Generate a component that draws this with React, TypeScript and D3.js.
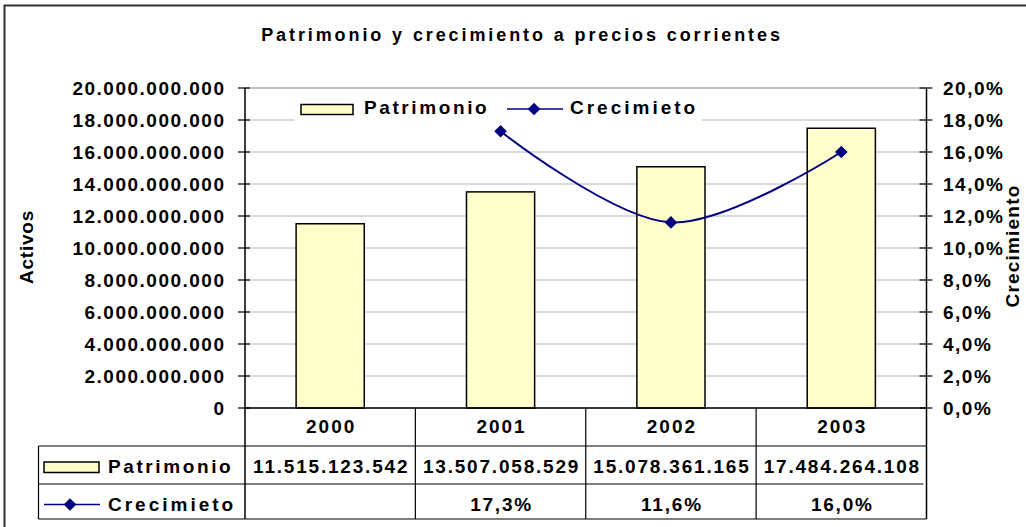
import React from 'react';
import * as d3 from 'd3';

const years = ['2000', '2001', '2002', '2003'];
const patrimonio = [11515123542, 13507058529, 15078361165, 17484264108];
const crecimiento: (number | null)[] = [null, 17.3, 11.6, 16.0];
const leftTicks = [0, 2e9, 4e9, 6e9, 8e9, 10e9, 12e9, 14e9, 16e9, 18e9, 20e9];
const rightTicks = [0, 2, 4, 6, 8, 10, 12, 14, 16, 18, 20];
const title = 'Patrimonio y crecimiento a precios corrientes';
const seriesNames = ['Patrimonio', 'Crecimieto'];
const leftAxisTitle = 'Activos';
const rightAxisTitle = 'Crecimiento';

const W = 1026, H = 527;
const L = 245, R = 926.5, T = 88, B = 408;
const FONT = '"Liberation Sans", Arial, Helvetica, sans-serif';
const BAR_FILL = '#FFFFCC';
const LINE = '#000080';

const loc = d3.formatLocale({ decimal: ',', thousands: '.', grouping: [3], currency: ['', ''] });
const fmtInt = loc.format(',.0f');
const fmtPct = (v: number) => loc.format('.1f')(v) + '%';

export default function App() {
  const x = d3.scaleBand<string>().domain(years).range([L, R]).paddingInner(0.6).paddingOuter(0.3);
  const step = x.step();
  const yL = d3.scaleLinear().domain([0, 20e9]).range([B, T]);
  const yR = d3.scaleLinear().domain([0, 20]).range([B, T]);
  const cx = (yr: string) => (x(yr) as number) + x.bandwidth() / 2;
  const pts = years.map((yr, i) => ({ yr, v: crecimiento[i] })).filter(d => d.v != null) as { yr: string; v: number }[];
  const line = d3.line<{ yr: string; v: number }>().x(d => cx(d.yr)).y(d => yR(d.v)).curve(d3.curveCatmullRom.alpha(0.5));
  const diamond = d3.symbol(d3.symbolSquare, 80)() as string;
  const colEdges = [L, ...years.map((yr, i) => L + step * (i + 1))].map((v, i, a) => (i === a.length - 1 ? R : v));
  const tLeft = 38.5, rowYear = 446, rowPat = 484, rowEnd = 519;

  const txt = { fontFamily: FONT, fontWeight: 700, fontSize: 19, letterSpacing: 1.5, fill: '#000' } as const;

  return (
    <svg width={W} height={H} style={{ position: 'absolute', left: 0, top: 0, background: '#fff' }}>
      <rect x={4.5} y={5.5} width={W + 10} height={H + 10} fill="#fff" stroke="#333" strokeWidth={2} />
      <text x={522} y={41} textAnchor="middle" style={{ ...txt, fontSize: 18, letterSpacing: 2.9 }}>{title}</text>

      {leftTicks.map(t => (
        <line key={'g' + t} x1={L} x2={R} y1={yL(t)} y2={yL(t)} stroke={t === 20e9 ? '#808080' : '#b4b4b4'} strokeWidth={1} />
      ))}

      <rect x={295} y={92} width={407} height={32} fill="#fff" />
      <rect x={301} y={104.5} width={52} height={10} fill={BAR_FILL} stroke="#000" strokeWidth={1.5} />
      <text x={364} y={114} style={{ ...txt, letterSpacing: 2.6 }}>{seriesNames[0]}</text>
      <line x1={507} x2={563} y1={109} y2={109} stroke={LINE} strokeWidth={1.5} />
      <path d={diamond} transform={`translate(534,109) rotate(45)`} fill={LINE} />
      <text x={570} y={114} style={{ ...txt, letterSpacing: 3 }}>{seriesNames[1]}</text>

      {years.map((yr, i) => (
        <rect key={yr} x={x(yr)} y={yL(patrimonio[i])} width={x.bandwidth()} height={B - yL(patrimonio[i])}
          fill={BAR_FILL} stroke="#000" strokeWidth={1.5} />
      ))}

      <path d={line(pts) as string} fill="none" stroke={LINE} strokeWidth={2} />
      {pts.map(d => (
        <path key={d.yr} d={diamond} transform={`translate(${cx(d.yr)},${yR(d.v)}) rotate(45)`} fill={LINE} />
      ))}

      <line x1={L} x2={L} y1={T} y2={rowEnd} stroke="#000" strokeWidth={1.5} />
      <line x1={R} x2={R} y1={T} y2={rowEnd} stroke="#000" strokeWidth={1.5} />
      <line x1={L} x2={R} y1={B} y2={B} stroke="#000" strokeWidth={1.5} />
      {leftTicks.map(t => (
        <g key={'l' + t}>
          <line x1={L - 7} x2={L + 5} y1={yL(t)} y2={yL(t)} stroke="#000" strokeWidth={1.2} />
          <text x={225.5} y={yL(t)} dy="0.36em" textAnchor="end" style={txt}>{fmtInt(t)}</text>
        </g>
      ))}
      {rightTicks.map(t => (
        <g key={'r' + t}>
          <line x1={R - 7} x2={R + 6} y1={yR(t)} y2={yR(t)} stroke="#000" strokeWidth={1.2} />
          <text x={943} y={yR(t)} dy="0.36em" style={txt}>{fmtPct(t)}</text>
        </g>
      ))}

      <text transform={`translate(33,247) rotate(-90)`} textAnchor="middle" style={{ ...txt, letterSpacing: 0.8 }}>{leftAxisTitle}</text>
      <text transform={`translate(1019,246) rotate(-90)`} textAnchor="middle" style={{ ...txt, letterSpacing: 1.2 }}>{rightAxisTitle}</text>

      <line x1={tLeft} x2={R} y1={rowYear} y2={rowYear} stroke="#000" strokeWidth={1.2} />
      <line x1={tLeft} x2={R - 3} y1={rowPat} y2={rowPat} stroke="#000" strokeWidth={1.2} />
      <line x1={tLeft} x2={R} y1={rowEnd} y2={rowEnd} stroke="#000" strokeWidth={1.2} />
      <line x1={tLeft} x2={tLeft} y1={rowYear} y2={rowEnd} stroke="#000" strokeWidth={1.2} />
      {colEdges.slice(1, -1).map((e, i) => (
        <line key={'c' + i} x1={e} x2={e} y1={B} y2={rowEnd} stroke="#000" strokeWidth={1.2} />
      ))}
      {years.map((yr, i) => {
        const mid = (colEdges[i] + colEdges[i + 1]) / 2 + 1;
        return (
          <g key={'t' + yr}>
            <text x={mid} y={433} textAnchor="middle" style={{ ...txt, letterSpacing: 2 }}>{yr}</text>
            <text x={mid} y={473} textAnchor="middle" style={{ ...txt, letterSpacing: 1.8 }}>{fmtInt(patrimonio[i])}</text>
            {crecimiento[i] != null && (
              <text x={mid} y={511} textAnchor="middle" style={{ ...txt, letterSpacing: 1.8 }}>{fmtPct(crecimiento[i] as number)}</text>
            )}
          </g>
        );
      })}
      <rect x={44} y={462} width={55} height={10.5} fill={BAR_FILL} stroke="#000" strokeWidth={1.5} />
      <text x={108} y={473} style={{ ...txt, letterSpacing: 2.6 }}>{seriesNames[0]}</text>
      <line x1={44} x2={100} y1={504.5} y2={504.5} stroke={LINE} strokeWidth={1.5} />
      <path d={diamond} transform={`translate(70,504.5) rotate(45)`} fill={LINE} />
      <text x={108} y={511} style={{ ...txt, letterSpacing: 3 }}>{seriesNames[1]}</text>
    </svg>
  );
}
